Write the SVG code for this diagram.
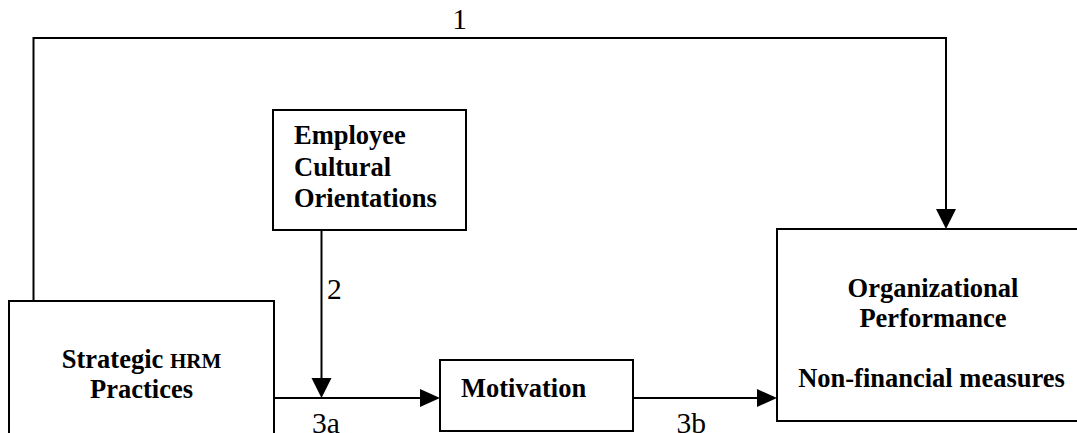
<svg xmlns="http://www.w3.org/2000/svg" width="1077" height="433" viewBox="0 0 1077 433">
<style>
.box{fill:#fff;stroke:#000;stroke-width:2}
.ln{fill:none;stroke:#000;stroke-width:2}
.hd{fill:#000;stroke:none}
.b{font-family:"Liberation Serif","Times New Roman",serif;font-weight:bold;font-size:26.5px;fill:#000}
.n{font-family:"Liberation Serif","Times New Roman",serif;font-size:29.5px;fill:#000}
</style>
<rect width="1077" height="433" fill="#fff"/>
<g id="connectors">
<path class="ln" d="M33.5,301 V38 H946 V212"/>
<polygon class="hd" points="936,209 956,209 946,229"/>
<path class="ln" d="M321.5,230 V380"/>
<polygon class="hd" points="311.5,378 331.5,378 321.5,398"/>
<path class="ln" d="M274,398 H422"/>
<polygon class="hd" points="420,389 440,398 420,407"/>
<path class="ln" d="M633,398 H759"/>
<polygon class="hd" points="757,389 777,398 757,407"/>
<text class="n" x="459.5" y="28.5" text-anchor="middle">1</text>
<text class="n" x="327" y="298.5">2</text>
<text class="n" x="312" y="432.5">3a</text>
<text class="n" x="676.5" y="432.5">3b</text>
</g>
<g id="employee">
<rect class="box" x="273" y="110" width="193" height="120"/>
<text class="b" x="294" y="144">Employee</text>
<text class="b" x="294" y="176">Cultural</text>
<text class="b" x="294" y="207">Orientations</text>
</g>
<g id="strategic">
<rect class="box" x="9" y="301" width="265" height="150"/>
<text class="b" x="141.5" y="367.5" text-anchor="middle">Strategic <tspan font-size="21px">HRM</tspan></text>
<text class="b" x="141.5" y="398" text-anchor="middle">Practices</text>
</g>
<g id="motivation">
<rect class="box" x="440" y="360" width="193" height="71"/>
<text class="b" x="461" y="397">Motivation</text>
</g>
<g id="performance">
<rect class="box" x="777" y="229" width="310" height="192"/>
<text class="b" x="933" y="296.5" text-anchor="middle">Organizational</text>
<text class="b" x="933" y="326.5" text-anchor="middle">Performance</text>
<text class="b" x="931.5" y="387" text-anchor="middle">Non-financial measures</text>
</g>
</svg>
